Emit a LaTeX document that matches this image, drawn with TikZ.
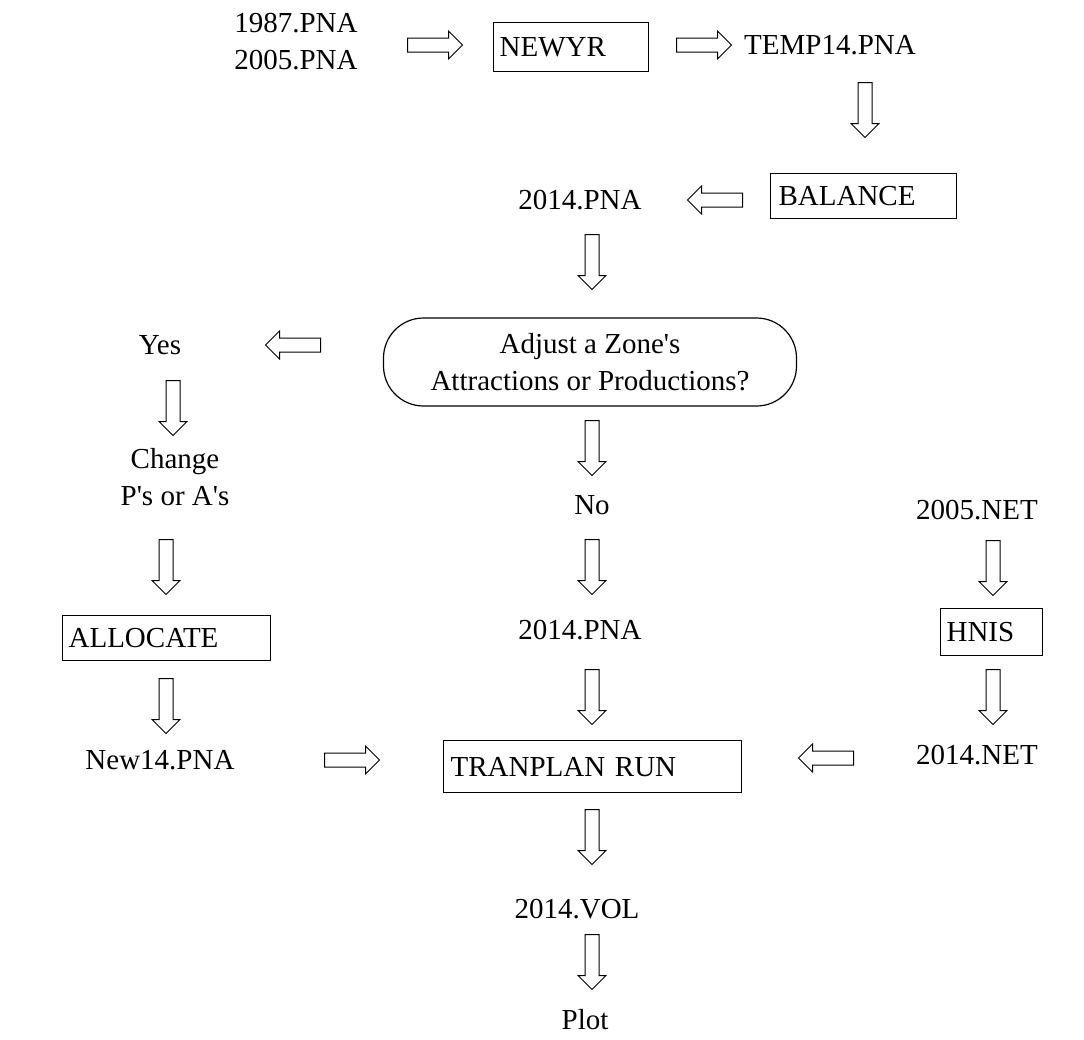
\documentclass[tikz,border=0pt]{standalone}
\usepackage{fontspec}
\setmainfont{Liberation Serif}[Ligatures=TeXOff]
\usetikzlibrary{calc}
\begin{document}
\begin{tikzpicture}[x=1pt,y=-1pt,
  every node/.style={font=\fontsize{29}{37}\selectfont},
  lbl/.style={inner sep=0pt},
  box/.style={draw, line width=1.2pt, inner xsep=0pt, inner ysep=0pt, align=left, anchor=north west},
  stadium/.style={draw, line width=1.2pt, rounded corners=40pt, align=center},
  fatarr/.pic={\draw[line width=1pt, line join=miter]
     (-27.5,-7) -- (13.5,-7) -- (13.5,-14) -- (27.5,0) -- (13.5,14) -- (13.5,7) -- (-27.5,7) -- cycle;}
]
\useasboundingbox (0,0) rectangle (1084,1039);
% nodes
\node[lbl, align=center] (inp) at (296,42) {1987.PNA\\2005.PNA};
\node[box, minimum width=155pt, minimum height=49pt, text width=143pt, inner xsep=6pt] (newyr) at (493,22) {NEWYR};
\node[lbl] (temp) at (830,45) {TEMP14.PNA};
\node[box, minimum width=186pt, minimum height=45pt, text width=170pt, inner xsep=8pt] (bal) at (770,173) {BALANCE};
\node[lbl] (p14a) at (580,200) {2014.PNA};
\node[stadium, minimum width=413pt, minimum height=88pt] (adj) at (590,362) {Adjust a Zone's\\Attractions or Productions?};
\node[lbl] (yes) at (160,345) {Yes};
\node[lbl, align=center] (chg) at (175,477) {Change\\P's or A's};
\node[box, minimum width=208pt, minimum height=45pt, text width=196pt, inner xsep=6pt] (alloc) at (62,615) {ALLOCATE};
\node[lbl] (new14) at (160,760) {New14.PNA};
\node[lbl] (no) at (592,505) {No};
\node[lbl] (p14b) at (580,630) {2014.PNA};
\node[box, minimum width=298pt, minimum height=52pt, text width=284pt, inner xsep=7pt] (tran) at (443,740) {TRANPLAN RUN};
\node[lbl] (net05) at (977,510) {2005.NET};
\node[box, minimum width=102pt, minimum height=47pt, text width=90pt, inner xsep=6pt] (hnis) at (940,608) {HNIS};
\node[lbl] (net14) at (977,755) {2014.NET};
\node[lbl] (vol) at (577,909) {2014.VOL};
\node[lbl] (plot) at (585,1020) {Plot};
% hollow block arrows (connectors)
\pic at (435,45) {fatarr};            % inp -> newyr
\pic at (704,45) {fatarr};            % newyr -> temp
\pic[rotate=-90] at (865,110) {fatarr}; % temp -> bal
\pic[rotate=180] at (715,200) {fatarr}; % bal -> p14a
\pic[rotate=-90] at (592,262) {fatarr}; % p14a -> adj
\pic[rotate=180] at (293,345) {fatarr}; % adj -> yes
\pic[rotate=-90] at (173,408) {fatarr}; % yes -> chg
\pic[rotate=-90] at (166,567) {fatarr}; % chg -> alloc
\pic[rotate=-90] at (166,706) {fatarr}; % alloc -> new14
\pic at (352,760) {fatarr};           % new14 -> tran
\pic[rotate=-90] at (592,448) {fatarr}; % adj -> no
\pic[rotate=-90] at (592,567) {fatarr}; % no -> p14b
\pic[rotate=-90] at (592,697) {fatarr}; % p14b -> tran
\pic[rotate=180] at (826,758) {fatarr}; % net14 -> tran
\pic[rotate=-90] at (993,568) {fatarr}; % net05 -> hnis
\pic[rotate=-90] at (993,697) {fatarr}; % hnis -> net14
\pic[rotate=-90] at (592,837) {fatarr}; % tran -> vol
\pic[rotate=-90] at (592,962) {fatarr}; % vol -> plot
\end{tikzpicture}
\end{document}
